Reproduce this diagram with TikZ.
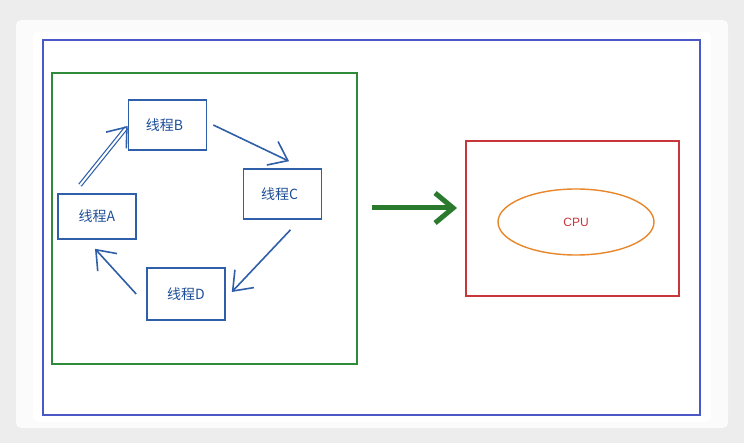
\documentclass[tikz,border=0pt]{standalone}
\usepackage{fontspec}
\newfontfamily\cjk{Noto Sans CJK SC}
\setsansfont{Liberation Sans}
\usetikzlibrary{arrows.meta,shapes.geometric}
\definecolor{bgray}{HTML}{EDEDED}
\definecolor{frameblue}{HTML}{4A58C8}
\definecolor{grn}{HTML}{2F8A3A}
\definecolor{rd}{HTML}{C8363C}
\definecolor{org}{HTML}{E8862A}
\definecolor{nblue}{HTML}{2F5FA8}
\definecolor{tblue}{HTML}{1F4F98}
\definecolor{arrgreen}{HTML}{2A7A2E}
\tikzset{
  thread/.style={draw=nblue, line width=1.6pt, minimum width=78pt, minimum height=50pt, inner sep=0pt, font=\cjk\fontsize{14}{16}\selectfont, text=tblue},
  flow/.style={draw=nblue, line width=1.6pt, -{Straight Barb[length=17pt,width=26pt,line width=1.6pt]}},
}
\begin{document}
\begin{tikzpicture}[x=1pt,y=-1pt]
\useasboundingbox (0,0) rectangle (744,443);
\fill[bgray] (0,0) rectangle (744,443);
\fill[white!97!gray] (16,20) [rounded corners=5pt] rectangle (728,428);
\fill[white] (33,32) [rounded corners=5pt] rectangle (711,422);
\draw[frameblue, line width=1.4pt] (43,40) rectangle (700,415);
\draw[grn, line width=1.4pt] (52,73) rectangle (357,364);
\draw[rd, line width=1.3pt] (466,141) rectangle (679,296);
\node[ellipse, draw=org, line width=1.4pt, minimum width=156pt, minimum height=66pt, inner sep=0pt, text=rd, font=\sffamily\fontsize{12}{14}\selectfont] (cpu) at (576,222) {CPU};
\node[thread, minimum height=50pt] (b) at (167.5,125) {\hspace*{-6pt}线程B};
\node[thread, minimum height=50pt] (c) at (282.5,194) {\hspace*{-6pt}线程C};
\node[thread, minimum height=45pt] (a) at (97,216.5) {线程A};
\node[thread, minimum height=52pt] (d) at (186,294) {线程D};
\coordinate (green0) at (372,208);
\coordinate (green1) at (457,208);
\draw[arrgreen, line width=5pt, -{Straight Barb[length=18pt,width=30pt,line width=5pt]}] (green0) -- (green1);
\draw[flow, double=white, double distance=2pt, line width=1.2pt] ([xshift=-17pt,yshift=8pt]a.north) -- ([yshift=-1pt]b.west);
\draw[flow] ([xshift=6pt]b.east) -- ([xshift=6.5pt,yshift=7pt]c.north);
\draw[flow] ([xshift=8pt,yshift=-10pt]c.south) -- ([xshift=6pt,yshift=2pt]d.east);
\draw[flow] ([xshift=-10pt]d.west) -- ([xshift=-2pt,yshift=-9pt]a.south);
\end{tikzpicture}
\end{document}
